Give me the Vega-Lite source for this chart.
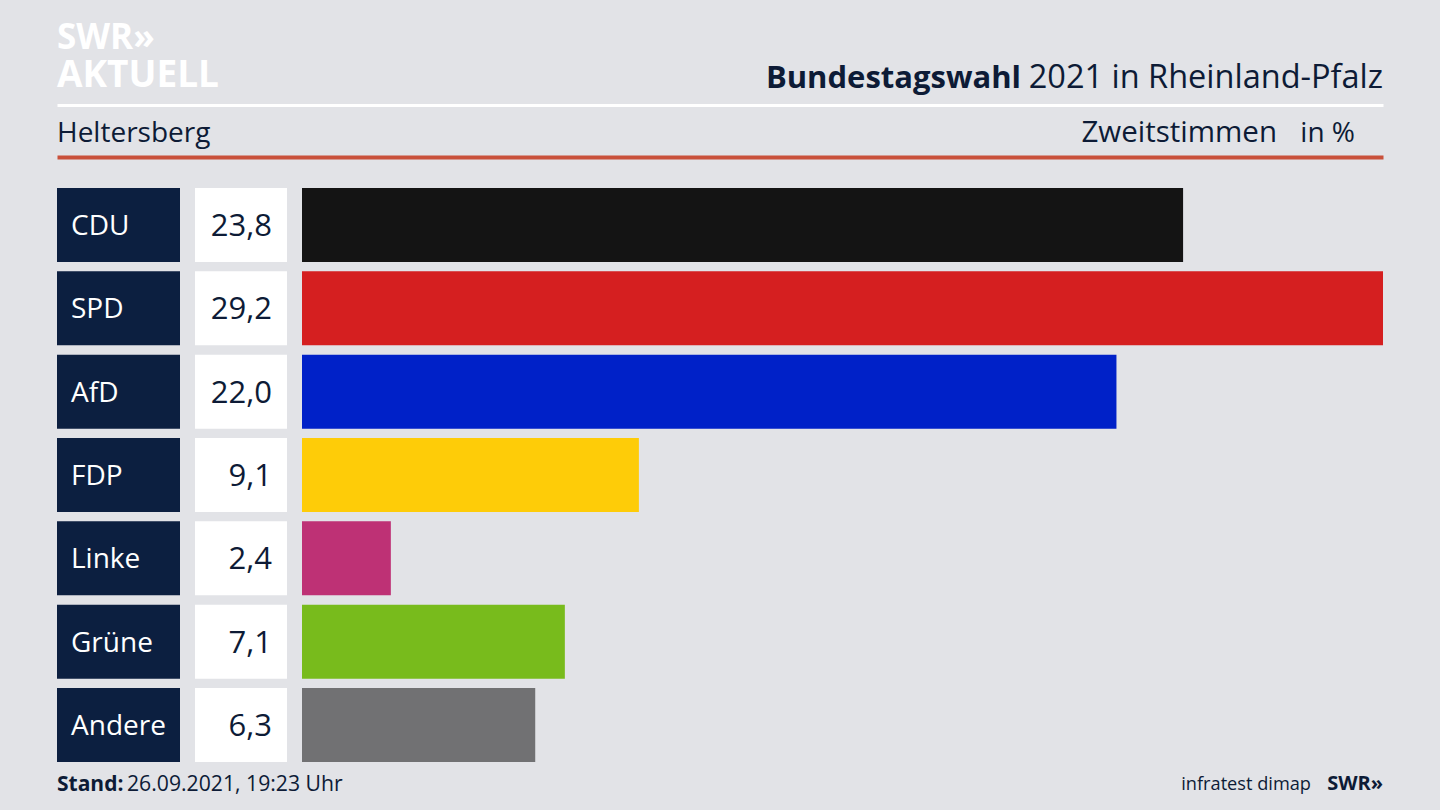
{
  "$schema": "https://vega.github.io/schema/vega-lite/v6.json",
  "autosize": {"type": "none"},
  "width": 1326,
  "height": 574,
  "padding": {"left": 57, "right": 57, "top": 188, "bottom": 48},
  "background": "#e2e3e7",
  "config": {
    "view": {"stroke": null},
    "font": "Open Sans",
    "locale": {"number": {"decimal": ",", "thousands": ".", "grouping": [3], "currency": ["", " €"]}}
  },
  "datasets": {
    "results": [
      {"party": "CDU", "value": 23.8},
      {"party": "SPD", "value": 29.2},
      {"party": "AfD", "value": 22.0},
      {"party": "FDP", "value": 9.1},
      {"party": "Linke", "value": 2.4},
      {"party": "Grüne", "value": 7.1},
      {"party": "Andere", "value": 6.3}
    ]
  },
  "data": {"name": "results"},
  "resolve": {"scale": {"x": "independent"}, "axis": {"x": "independent"}},
  "layer": [
    {
      "mark": {"type": "bar", "color": "#0c1f40"},
      "encoding": {
        "y": {"field": "party", "type": "nominal", "sort": null, "scale": {"type": "band", "paddingInner": 0.112, "paddingOuter": 0}, "axis": null},
        "x": {"datum": 1, "type": "quantitative", "scale": {"domain": [0, 1], "range": [0, 123], "nice": false}, "axis": null}
      }
    },
    {
      "mark": {"type": "text", "align": "left", "baseline": "middle", "dx": 14, "dy": 2, "fontSize": 28, "color": "#ffffff"},
      "encoding": {
        "y": {"field": "party", "type": "nominal", "sort": null},
        "x": {"datum": 0, "type": "quantitative", "scale": {"domain": [0, 1], "range": [0, 123], "nice": false}, "axis": null},
        "text": {"field": "party"}
      }
    },
    {
      "mark": {"type": "bar", "color": "#ffffff"},
      "encoding": {
        "y": {"field": "party", "type": "nominal", "sort": null},
        "x": {"datum": 1, "type": "quantitative", "scale": {"domain": [0, 1], "range": [138, 230], "nice": false}, "axis": null}
      }
    },
    {
      "mark": {"type": "text", "align": "right", "baseline": "middle", "dx": -15, "dy": 2, "fontSize": 31, "color": "#0d1b36"},
      "encoding": {
        "y": {"field": "party", "type": "nominal", "sort": null},
        "x": {"datum": 1, "type": "quantitative", "scale": {"domain": [0, 1], "range": [138, 230], "nice": false}, "axis": null},
        "text": {"field": "value", "type": "quantitative", "format": ".1f"}
      }
    },
    {
      "mark": {"type": "bar"},
      "encoding": {
        "y": {"field": "party", "type": "nominal", "sort": null},
        "x": {"field": "value", "type": "quantitative", "scale": {"domain": [0, 29.2], "range": [245, 1326], "nice": false}, "axis": null},
        "color": {"field": "party", "type": "nominal", "legend": null,
          "scale": {"domain": ["CDU", "SPD", "AfD", "FDP", "Linke", "Grüne", "Andere"],
                    "range": ["#141414", "#d51f20", "#0021c8", "#fecc08", "#be3175", "#78bb1c", "#717173"]}}
      }
    },
    {
      "data": {"values": [{"t": "Heltersberg"}]},
      "mark": {"type": "text", "align": "left", "baseline": "alphabetic", "dy": -46, "fontSize": 28, "color": "#0d1b36"},
      "encoding": {
        "x": {"datum": 0, "type": "quantitative", "scale": {"domain": [0, 1], "nice": false},
              "axis": {"orient": "top", "offset": 83, "domain": true, "domainColor": "#ffffff", "domainWidth": 3, "ticks": false, "labels": false, "grid": false, "title": null}},
        "y": {"datum": "CDU", "type": "nominal", "bandPosition": 0},
        "text": {"field": "t"}
      }
    },
    {
      "data": {"values": [{"t": "Stand:"}]},
      "mark": {"type": "text", "align": "left", "baseline": "alphabetic", "dy": 29, "fontSize": 21, "fontWeight": "bold", "color": "#0d1b36"},
      "encoding": {
        "x": {"datum": 0, "type": "quantitative", "scale": {"domain": [0, 1], "nice": false},
              "axis": {"orient": "top", "offset": 31, "domain": true, "domainColor": "#c9513b", "domainWidth": 4, "ticks": false, "labels": false, "grid": false, "title": null}},
        "y": {"datum": "Andere", "type": "nominal", "bandPosition": 1},
        "text": {"field": "t"}
      }
    },
    {
      "data": {"values": [{"t": "26.09.2021, 19:23 Uhr"}]},
      "mark": {"type": "text", "align": "left", "baseline": "alphabetic", "dy": 29, "dx": 70, "fontSize": 21.2, "color": "#0d1b36"},
      "encoding": {
        "x": {"datum": 0, "type": "quantitative", "scale": {"domain": [0, 1], "nice": false}, "axis": null},
        "y": {"datum": "Andere", "type": "nominal", "bandPosition": 1},
        "text": {"field": "t"}
      }
    },
    {
      "data": {"values": [{"t": "SWR»"}]},
      "mark": {"type": "text", "align": "left", "baseline": "alphabetic", "dy": -139, "fontSize": 35, "fontWeight": "bold", "color": "#ffffff"},
      "encoding": {
        "x": {"datum": 0, "type": "quantitative", "scale": {"domain": [0, 1], "nice": false}, "axis": null},
        "y": {"datum": "CDU", "type": "nominal", "bandPosition": 0},
        "text": {"field": "t"}
      }
    },
    {
      "data": {"values": [{"t": "AKTUELL"}]},
      "mark": {"type": "text", "align": "left", "baseline": "alphabetic", "dy": -101, "fontSize": 37, "fontWeight": "bold", "color": "#ffffff"},
      "encoding": {
        "x": {"datum": 0, "type": "quantitative", "scale": {"domain": [0, 1], "nice": false}, "axis": null},
        "y": {"datum": "CDU", "type": "nominal", "bandPosition": 0},
        "text": {"field": "t"}
      }
    },
    {
      "data": {"values": [{"t": "in %"}]},
      "mark": {"type": "text", "align": "right", "baseline": "alphabetic", "dy": -46, "dx": -28, "fontSize": 28, "color": "#0d1b36"},
      "encoding": {
        "x": {"datum": 1, "type": "quantitative", "scale": {"domain": [0, 1], "nice": false}, "axis": null},
        "y": {"datum": "CDU", "type": "nominal", "bandPosition": 0},
        "text": {"field": "t"}
      }
    },
    {
      "data": {"values": [{"t": "Zweitstimmen"}]},
      "mark": {"type": "text", "align": "right", "baseline": "alphabetic", "dy": -46, "dx": -106, "fontSize": 29.5, "color": "#0d1b36"},
      "encoding": {
        "x": {"datum": 1, "type": "quantitative", "scale": {"domain": [0, 1], "nice": false}, "axis": null},
        "y": {"datum": "CDU", "type": "nominal", "bandPosition": 0},
        "text": {"field": "t"}
      }
    },
    {
      "data": {"values": [{"t": "2021 in Rheinland-Pfalz"}]},
      "mark": {"type": "text", "align": "right", "baseline": "alphabetic", "dy": -100, "fontSize": 32.5, "color": "#0d1b36"},
      "encoding": {
        "x": {"datum": 1, "type": "quantitative", "scale": {"domain": [0, 1], "nice": false}, "axis": null},
        "y": {"datum": "CDU", "type": "nominal", "bandPosition": 0},
        "text": {"field": "t"}
      }
    },
    {
      "data": {"values": [{"t": "Bundestagswahl"}]},
      "mark": {"type": "text", "align": "right", "baseline": "alphabetic", "dy": -100, "dx": -362, "fontSize": 31, "fontWeight": "bold", "color": "#0d1b36"},
      "encoding": {
        "x": {"datum": 1, "type": "quantitative", "scale": {"domain": [0, 1], "nice": false}, "axis": null},
        "y": {"datum": "CDU", "type": "nominal", "bandPosition": 0},
        "text": {"field": "t"}
      }
    },
    {
      "data": {"values": [{"t": "SWR»"}]},
      "mark": {"type": "text", "align": "right", "baseline": "alphabetic", "dy": 28, "fontSize": 20, "fontWeight": "bold", "color": "#0d1b36"},
      "encoding": {
        "x": {"datum": 1, "type": "quantitative", "scale": {"domain": [0, 1], "nice": false}, "axis": null},
        "y": {"datum": "Andere", "type": "nominal", "bandPosition": 1},
        "text": {"field": "t"}
      }
    },
    {
      "data": {"values": [{"t": "infratest dimap"}]},
      "mark": {"type": "text", "align": "right", "baseline": "alphabetic", "dy": 28, "dx": -72, "fontSize": 18.2, "color": "#0d1b36"},
      "encoding": {
        "x": {"datum": 1, "type": "quantitative", "scale": {"domain": [0, 1], "nice": false}, "axis": null},
        "y": {"datum": "Andere", "type": "nominal", "bandPosition": 1},
        "text": {"field": "t"}
      }
    }
  ]
}
